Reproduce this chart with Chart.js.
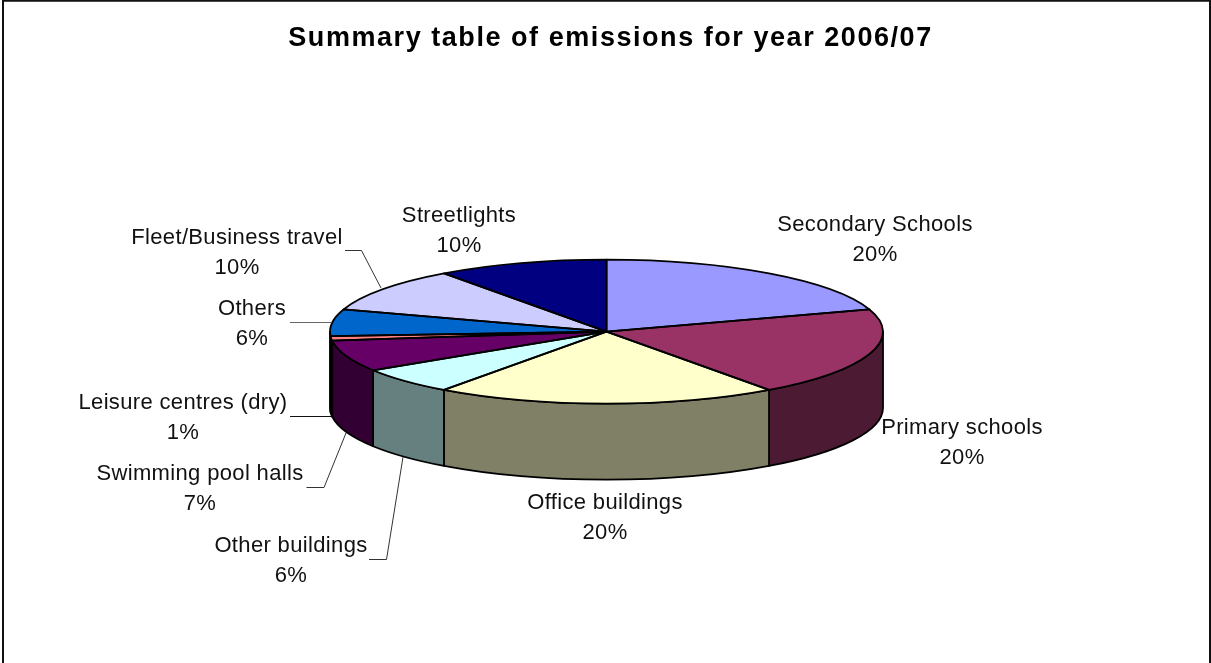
<!DOCTYPE html>
<html>
<head>
<meta charset="utf-8">
<style>
  html, body { margin: 0; padding: 0; background: #fff; overflow: hidden; }
  canvas { display: block; }
</style>
<script src="https://cdn.jsdelivr.net/npm/chart.js@4"></script>
</head>
<body>
<canvas id="emissions" width="1211" height="663"></canvas>
<script>
const chartTitle = 'Summary table of emissions for year 2006/07';
const categories = ['Secondary Schools', 'Primary schools', 'Office buildings', 'Other buildings',
  'Swimming pool halls', 'Leisure centres (dry)', 'Others', 'Fleet/Business travel', 'Streetlights'];
const sharePercent = [20, 20, 20, 6, 7, 1, 6, 10, 10];
const sliceColours = ['#9999FF', '#993366', '#FFFFCC', '#CCFFFF', '#660066', '#FF8080', '#0066CC', '#CCCCFF', '#000080'];

// Tilt of the pie: vertical squash of the top face and height of the rim.
const RADIUS = 276.5;
const SQUASH = 72 / 276.5;
const RIM = 76;
const EDGE = 1.8;
const TITLE_SHIFT = 4;

// Centre of each two-line label, by category index.
const labelCentres = [
  [875, 225], [962, 428], [605, 503], [291, 546], [200, 474],
  [183, 403], [252, 309], [237, 238], [459, 216]
];
const LINE_GAP = 29.5;

// Leader lines for the labels that sit away from their slice.
const leaders = [
  { colour: '#333', pts: [[345, 250.5], [361.5, 250.5], [381, 288]] },
  { colour: '#666', pts: [[290, 322.5], [331, 322.5]] },
  { colour: '#111', pts: [[290, 416.5], [331, 416.5]] },
  { colour: '#333', pts: [[306.5, 487.5], [324, 487.5], [346, 433]] },
  { colour: '#333', pts: [[369, 559.5], [386.5, 559.5], [403, 457]] }
];

function halfTone(hex) {
  const n = parseInt(hex.slice(1), 16);
  const c = [n >> 16, (n >> 8) & 255, n & 255].map(v => Math.round(v / 2));
  return `rgb(${c[0]},${c[1]},${c[2]})`;
}

const tiltedPie = {
  id: 'tiltedPie',
  afterLayout(chart) {
    // The title sits a little right of the pie's centre.
    chart.titleBlock.left += TITLE_SHIFT;
    chart.titleBlock.right += TITLE_SHIFT;
  },
  beforeDraw(chart) {
    const { ctx, width } = chart;
    ctx.letterSpacing = '1.55px';
    // Frame round the drawing; it runs off the lower edge of the page.
    ctx.save();
    ctx.strokeStyle = '#111';
    ctx.lineWidth = 2;
    ctx.beginPath();
    ctx.moveTo(3, 700);
    ctx.lineTo(3, 0.8);
    ctx.lineTo(width - 1, 0.8);
    ctx.lineTo(width - 1, 700);
    ctx.stroke();
    ctx.restore();
  },
  beforeDatasetDraw(chart, args) {
    const { ctx } = chart;
    const arcs = args.meta.data;
    const cx = arcs[0].x, cy = arcs[0].y;
    const ry = RADIUS * SQUASH;
    // Rim: only the part of each slice on the near half of the ellipse.
    ctx.save();
    ctx.lineWidth = EDGE;
    ctx.strokeStyle = '#000';
    ctx.lineJoin = 'round';
    arcs.forEach((arc, i) => {
      const from = Math.max(arc.startAngle, 0);
      const to = Math.min(arc.endAngle, Math.PI);
      if (to <= from) return;
      ctx.beginPath();
      ctx.ellipse(cx, cy, RADIUS, ry, 0, from, to);
      ctx.ellipse(cx, cy + RIM, RADIUS, ry, 0, to, from, true);
      ctx.closePath();
      ctx.fillStyle = halfTone(sliceColours[i]);
      ctx.fill();
      ctx.stroke();
    });
    ctx.restore();
    // Top face: the library's own arcs, drawn through a vertical squash.
    ctx.save();
    ctx.translate(cx, cy);
    ctx.scale(1, SQUASH);
    ctx.translate(-cx, -cy);
  },
  afterDatasetDraw(chart, args) {
    const { ctx } = chart;
    ctx.restore();
    const arcs = args.meta.data;
    ctx.save();
    ctx.lineWidth = EDGE;
    ctx.strokeStyle = '#000';
    ctx.lineJoin = 'round';
    arcs.forEach(arc => {
      ctx.beginPath();
      ctx.moveTo(arc.x, arc.y);
      ctx.ellipse(arc.x, arc.y, RADIUS, RADIUS * SQUASH, 0, arc.startAngle, arc.endAngle);
      ctx.closePath();
      ctx.stroke();
    });
    ctx.restore();
  },
  afterDraw(chart) {
    const { ctx } = chart;
    ctx.save();
    ctx.letterSpacing = '0.35px';
    ctx.lineWidth = 1;
    leaders.forEach(l => {
      ctx.strokeStyle = l.colour;
      ctx.beginPath();
      l.pts.forEach((p, i) => i ? ctx.lineTo(p[0], p[1]) : ctx.moveTo(p[0], p[1]));
      ctx.stroke();
    });
    ctx.fillStyle = '#111';
    ctx.font = '22px "Liberation Sans", Arial, sans-serif';
    ctx.textAlign = 'center';
    ctx.textBaseline = 'middle';
    categories.forEach((name, i) => {
      const [x, y] = labelCentres[i];
      ctx.fillText(name, x, y);
      ctx.fillText(sharePercent[i] + '%', x, y + LINE_GAP);
    });
    ctx.restore();
  }
};

new Chart(document.getElementById('emissions'), {
  type: 'doughnut',
  data: {
    labels: categories,
    datasets: [{
      data: sharePercent,
      backgroundColor: sliceColours,
      borderWidth: 0
    }]
  },
  options: {
    responsive: false,
    animation: false,
    cutout: 0,
    radius: RADIUS,
    layout: { padding: { left: 2, bottom: 60 } },
    plugins: {
      legend: { display: false },
      tooltip: { enabled: false },
      title: {
        display: true,
        text: chartTitle,
        color: '#000',
        font: { family: '"Liberation Sans", Arial, sans-serif', size: 27, weight: 'bold', lineHeight: 1.2 },
        padding: { top: 22, bottom: 6 }
      }
    }
  },
  plugins: [tiltedPie]
});
</script>
</body>
</html>
